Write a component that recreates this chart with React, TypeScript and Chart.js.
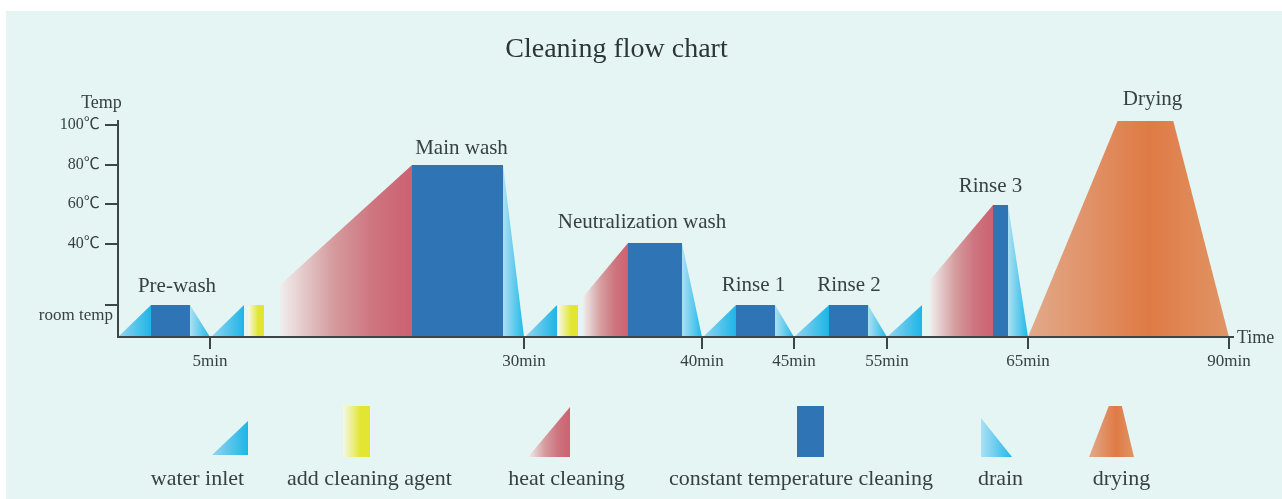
import React, { useEffect, useRef } from 'react';
import { Chart, registerables } from 'chart.js';

Chart.register(...registerables);

// ---------- text ----------
const TITLE = 'Cleaning flow chart';
const X_TITLE = 'Time';
const Y_TITLE = 'Temp';

// ---------- axes (schematic timeline units / temperature level units) ----------
const X_MAX = 1115;
const Y_MAX = 216;
const X_TICKS = [92, 406, 584, 676, 769, 910, 1111];
const X_TICK_LABELS = ['5min', '30min', '40min', '45min', '55min', '65min', '90min'];
const Y_TICKS = [32, 93, 133, 172, 212];
const Y_TICK_LABELS: (string | string[])[] = [['', 'room temp'], '40℃   \u200A', '60℃   \u200A', '80℃   \u200A', '100℃   \u200A'];

// ---------- process steps ----------
const ROOM = 32;
const inletX = [[0, 33], [93, 126], [407, 439], [585, 618], [676, 711], [769, 804]];
const agentX = [[130, 146], [440, 460]];
const heatX = [[162, 294], [465, 510], [812, 875]];
const heatY = [[52, 172], [40, 94], [57, 132]];
const constX = [[33, 72], [294, 385], [510, 564], [618, 657], [711, 750], [875, 890]];
const constY = [32, 172, 94, 32, 32, 132];
const drainX = [[72, 92], [385, 406], [564, 584], [657, 676], [750, 769], [890, 910]];
const drainY = [32, 172, 94, 32, 32, 132];
const dryingX = [910, 1000, 1055, 1111];
const dryingY = [0, 217, 217, 0];

// ---------- stage names ----------
const stageNames = ['Pre-wash', 'Main wash', 'Neutralization wash', 'Rinse 1', 'Rinse 2', 'Rinse 3', 'Drying'];
const stageLabelX = [59, 343.5, 524, 635.5, 731, 872.5, 1034.5];
const stageLabelY = [45, 183, 109, 46, 46, 145, 232];

// ---------- legend ----------
const legendLabels = ['water inlet', 'add cleaning agent', 'heat cleaning', 'constant temperature cleaning', 'drain', 'drying'];

// ---------- styles ----------
const FONT = "'Liberation Serif', 'Noto Sans CJK SC', 'DejaVu Serif', serif";
const TEXT = '#374240';
const AXIS = '#3c4745';
const PANEL = '#e5f5f4';
type Stops = [number, string][];
const INLET_STOPS: Stops = [[0, '#94d5f0'], [1, '#1db5e7']];
const DRAIN_STOPS: Stops = [[0, '#ade0f3'], [1, '#20b8e8']];
const AGENT_STOPS: Stops = [[0, '#f6f8ea'], [0.65, '#e2e632'], [1, '#e2e632']];
const HEAT_STOPS: Stops = [[0, '#f0eeed'], [0.4, '#d59c9e'], [0.7, '#ce7580'], [1, '#cc6171']];
const CONST_STOPS: Stops = [[0, '#2f75b6'], [1, '#2f75b6']];
const DRYING_STOPS: Stops = [[0, '#e2aa8b'], [0.6, '#df7a45'], [1, '#e09566']];

const cssGradient = (s: Stops) =>
  `linear-gradient(to right, ${s.map(([o, c]) => `${c} ${o * 100}%`).join(', ')})`;

const legendIcons = [
  { left: 212, top: 421, w: 36, h: 34, clip: 'polygon(0 100%, 100% 0, 100% 100%)', stops: INLET_STOPS, cx: 197.5 },
  { left: 343, top: 406, w: 27, h: 51, clip: 'none', stops: AGENT_STOPS, cx: 369.5 },
  { left: 528, top: 407, w: 42, h: 50, clip: 'polygon(0 100%, 100% 0, 100% 100%)', stops: HEAT_STOPS, cx: 566.5 },
  { left: 797, top: 406, w: 27, h: 51, clip: 'none', stops: CONST_STOPS, cx: 801 },
  { left: 981, top: 418, w: 31, h: 39, clip: 'polygon(0 0, 100% 100%, 0 100%)', stops: DRAIN_STOPS, cx: 1000.5 },
  { left: 1089, top: 406, w: 45, h: 51, clip: 'polygon(44% 0, 73% 0, 100% 100%, 0 100%)', stops: DRYING_STOPS, cx: 1121.5 },
];

type Seg = { pts: { x: number; y: number }[]; stops: Stops };

function buildSegments(): Seg[] {
  const segs: Seg[] = [];
  inletX.forEach(([a, b]) => segs.push({ pts: [{ x: a, y: 0 }, { x: b, y: ROOM }], stops: INLET_STOPS }));
  agentX.forEach(([a, b]) => segs.push({ pts: [{ x: a, y: ROOM }, { x: b, y: ROOM }], stops: AGENT_STOPS }));
  heatX.forEach(([a, b], i) => segs.push({ pts: [{ x: a, y: heatY[i][0] }, { x: b, y: heatY[i][1] }], stops: HEAT_STOPS }));
  constX.forEach(([a, b], i) => segs.push({ pts: [{ x: a, y: constY[i] }, { x: b, y: constY[i] }], stops: CONST_STOPS }));
  drainX.forEach(([a, b], i) => segs.push({ pts: [{ x: a, y: drainY[i] }, { x: b, y: 0 }], stops: DRAIN_STOPS }));
  segs.push({ pts: dryingX.map((x, i) => ({ x, y: dryingY[i] })), stops: DRYING_STOPS });
  return segs;
}

const textPlugin = {
  id: 'stageText',
  afterDraw(chart: any) {
    const { ctx, chartArea, scales } = chart;
    const xs = scales.x;
    const ys = scales.y;
    ctx.save();
    ctx.fillStyle = TEXT;
    ctx.textBaseline = 'alphabetic';
    ctx.textAlign = 'center';
    ctx.font = `21px ${FONT}`;
    stageNames.forEach((n, i) => {
      ctx.fillText(n, xs.getPixelForValue(stageLabelX[i]), ys.getPixelForValue(stageLabelY[i]));
    });
    ctx.font = `18px ${FONT}`;
    ctx.fillText(Y_TITLE, chartArea.left - 16.5, chartArea.top - 13);
    ctx.textAlign = 'left';
    ctx.fillText(X_TITLE, chartArea.right + 4, chartArea.bottom + 6);
    ctx.restore();
  },
};

export default function App() {
  const ref = useRef<HTMLCanvasElement>(null);

  useEffect(() => {
    const segs = buildSegments();
    const datasets = segs.map((seg) => ({
      data: seg.pts,
      fill: 'origin',
      borderColor: 'rgba(0,0,0,0)',
      borderWidth: 0,
      pointRadius: 0,
      pointHoverRadius: 0,
      tension: 0,
      clip: false,
      backgroundColor: (c: any) => {
        const ch = c.chart;
        if (!ch.chartArea || !ch.scales.x) return seg.stops[seg.stops.length - 1][1];
        const xs = ch.scales.x;
        const p0 = xs.getPixelForValue(seg.pts[0].x);
        const p1 = xs.getPixelForValue(seg.pts[seg.pts.length - 1].x);
        const g = ch.ctx.createLinearGradient(p0, 0, p1, 0);
        seg.stops.forEach(([o, col]) => g.addColorStop(o, col));
        return g;
      },
    }));

    const chart = new Chart(ref.current as HTMLCanvasElement, {
      type: 'line',
      data: { datasets: datasets as any },
      plugins: [textPlugin],
      options: {
        animation: false,
        responsive: true,
        maintainAspectRatio: false,
        events: [],
        layout: { padding: { left: 0, right: 49, top: 0, bottom: 0 } },
        plugins: {
          legend: { display: false },
          tooltip: { enabled: false },
          title: {
            display: true,
            text: TITLE,
            color: '#2c3735',
            font: { family: FONT, size: 28, weight: 'normal' },
            padding: { top: 33, bottom: 54.4 },
          },
        },
        scales: {
          x: {
            type: 'linear',
            min: 0,
            max: X_MAX,
            afterFit: (s: any) => { s.height = 162; },
            afterBuildTicks: (s: any) => { s.ticks = X_TICKS.map((v) => ({ value: v })); },
            ticks: {
              callback: (_v: any, i: number) => X_TICK_LABELS[i],
              autoSkip: false,
              maxRotation: 0,
              padding: 2,
              color: TEXT,
              font: { family: FONT, size: 17 },
              z: 1,
            },
            grid: { drawOnChartArea: false, tickLength: 12, color: AXIS, lineWidth: 2, z: 1 },
            border: { color: AXIS, width: 2, z: 2 },
          },
          y: {
            type: 'linear',
            min: 0,
            max: Y_MAX,
            afterFit: (s: any) => { s.width = 118; },
            afterBuildTicks: (s: any) => { s.ticks = Y_TICKS.map((v) => ({ value: v })); },
            ticks: {
              callback: (_v: any, i: number) => Y_TICK_LABELS[i],
              autoSkip: false,
              padding: -8,
              color: TEXT,
              font: (c: any) => ({ family: FONT, size: c.index === 0 ? 17 : 16 }),
              z: 1,
            },
            grid: { drawOnChartArea: false, tickLength: 13, color: AXIS, lineWidth: 2, z: 1 },
            border: { color: AXIS, width: 2, z: 2 },
          },
        },
      } as any,
    });
    return () => chart.destroy();
  }, []);

  return (
    <>
      <div style={{ position: 'absolute', left: 6, top: 11, width: 1276, height: 488, background: PANEL }} />
      <div style={{ position: 'absolute', left: 0, top: 0, width: 1282, height: 499 }}>
        <canvas ref={ref} />
      </div>
      {legendIcons.map((it, i) => (
        <React.Fragment key={i}>
          <div
            style={{
              position: 'absolute',
              left: it.left,
              top: it.top,
              width: it.w,
              height: it.h,
              background: cssGradient(it.stops),
              clipPath: it.clip,
            }}
          />
          <div
            style={{
              position: 'absolute',
              left: it.cx,
              top: 465,
              transform: 'translateX(-50%)',
              whiteSpace: 'nowrap',
              fontFamily: FONT,
              fontSize: 22,
              lineHeight: '26px',
              color: TEXT,
            }}
          >
            {legendLabels[i]}
          </div>
        </React.Fragment>
      ))}
    </>
  );
}
